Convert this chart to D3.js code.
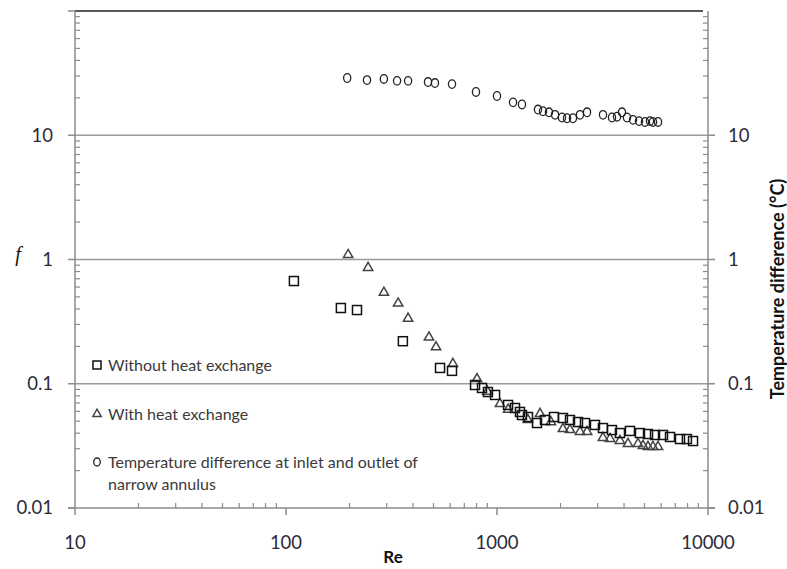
<!DOCTYPE html>
<meta charset="utf-8">
<html>
<head>
    <script src="https://d3js.org/d3.v7.min.js"></script>
    <style>
        body { margin: 0; background: #fff; }
        svg text { font-family: 'Lato', 'Open Sans', sans-serif; }
    </style>
</head>
<body>
<svg width="787" height="569"></svg>
<script>
    // Re / value pairs
    const tdRe  = [195, 242, 291, 336, 379, 471, 508, 612, 795, 1000, 1191, 1313, 1564, 1652, 1763, 1884, 2032, 2147, 2291, 2473, 2671, 3180, 3508, 3705, 3911, 4131, 4413, 4710, 5027, 5310, 5486, 5795];
    const tdVal = [28.9, 27.8, 28.4, 27.4, 27.4, 26.8, 26.3, 25.8, 22.3, 20.7, 18.4, 17.7, 16.1, 15.6, 15.3, 14.6, 13.9, 13.7, 13.7, 14.6, 15.3, 14.6, 13.9, 14.1, 15.3, 13.9, 13.3, 13.0, 12.8, 13.0, 12.8, 12.8];

    const noHxRe = [109, 182, 217, 358, 537, 612, 787, 849, 906, 979, 1128, 1217, 1285, 1313, 1402, 1548, 1688, 1862, 2053, 2218, 2420, 2612, 2913, 3177, 3505, 3826, 4266, 4760, 5196, 5609, 6119, 6607, 7367, 7943, 8492];
    const noHxF  = [0.671, 0.407, 0.392, 0.22, 0.134, 0.127, 0.0977, 0.0925, 0.0858, 0.0812, 0.0675, 0.0638, 0.0593, 0.056, 0.054, 0.0483, 0.0511, 0.054, 0.053, 0.0511, 0.0492, 0.0483, 0.0466, 0.044, 0.0424, 0.0401, 0.0417, 0.0401, 0.0394, 0.0387, 0.0387, 0.0373, 0.0359, 0.0359, 0.0346];

    const hxRe = [197, 245, 291, 340, 379, 476, 514, 618, 804, 900, 1033, 1130, 1400, 1600, 1800, 2053, 2218, 2473, 2671, 3177, 3434, 3826, 4178, 4660, 4920, 5196, 5486, 5795];
    const hxF  = [1.107, 0.871, 0.55, 0.45, 0.34, 0.24, 0.2, 0.147, 0.111, 0.088, 0.070, 0.063, 0.052, 0.0582, 0.05, 0.044, 0.0432, 0.0417, 0.0417, 0.0373, 0.0366, 0.0353, 0.0334, 0.0334, 0.0322, 0.0316, 0.0316, 0.0316];

    const xTicks = [10, 100, 1000, 10000];
    const yTicks = [0.01, 0.1, 1, 10];
    const gridVals = [0.1, 1, 10];

    const svg = d3.select("svg");
    const margin = { top: 11, right: 79, bottom: 61, left: 75 };
    const W = 787 - margin.left - margin.right;
    const H = 569 - margin.top - margin.bottom;

    const x = d3.scaleLog().domain([10, 10000]).range([0, W]);
    const y = d3.scaleLog().domain([0.01, 100]).range([H, 0]);

    const g = svg.append("g").attr("transform", `translate(${margin.left},${margin.top})`);

    const axisCol = "#8c8c8c";

    // gridlines
    g.selectAll(".grid").data(gridVals).join("line")
        .attr("x1", 0).attr("x2", W)
        .attr("y1", d => y(d)).attr("y2", d => y(d))
        .attr("stroke", "#9a9a9a").attr("stroke-width", 1.5);
    g.append("line").attr("x1", 0).attr("x2", W - 5).attr("y1", y(100)).attr("y2", y(100))
        .attr("stroke", "#222").attr("stroke-width", 1.5);

    // frame lines
    g.append("line").attr("x1", 0).attr("x2", 0).attr("y1", 0).attr("y2", H).attr("stroke", axisCol).attr("stroke-width", 1.5);
    g.append("line").attr("x1", W).attr("x2", W).attr("y1", 0).attr("y2", H).attr("stroke", axisCol).attr("stroke-width", 1.5);
    g.append("line").attr("x1", -7).attr("x2", W + 7).attr("y1", H).attr("y2", H).attr("stroke", axisCol).attr("stroke-width", 1.5);

    // minor ticks
    const minorY = [];
    [0.01, 0.1, 1, 10].forEach(d => { for (let k = 2; k <= 9; k++) minorY.push(d * k); });
    const minorX = [];
    [10, 100, 1000].forEach(d => { for (let k = 2; k <= 9; k++) minorX.push(d * k); });

    g.selectAll(".myl").data(minorY).join("line")
        .attr("x1", 0).attr("x2", 5).attr("y1", d => y(d)).attr("y2", d => y(d))
        .attr("stroke", axisCol).attr("stroke-width", 1.2);
    g.selectAll(".myr").data(minorY).join("line")
        .attr("x1", W - 5).attr("x2", W).attr("y1", d => y(d)).attr("y2", d => y(d))
        .attr("stroke", axisCol).attr("stroke-width", 1.2);
    g.selectAll(".mx").data(minorX).join("line")
        .attr("x1", d => x(d)).attr("x2", d => x(d)).attr("y1", H - 5).attr("y2", H)
        .attr("stroke", axisCol).attr("stroke-width", 1.2);

    // major ticks
    g.selectAll(".tyl").data(yTicks.concat([100])).join("line")
        .attr("x1", -7).attr("x2", 0).attr("y1", d => y(d)).attr("y2", d => y(d))
        .attr("stroke", axisCol).attr("stroke-width", 1.5);
    g.selectAll(".tyr").data(yTicks).join("line")
        .attr("x1", W).attr("x2", W + 7).attr("y1", d => y(d)).attr("y2", d => y(d))
        .attr("stroke", axisCol).attr("stroke-width", 1.5);
    g.selectAll(".tx").data(xTicks).join("line")
        .attr("x1", d => x(d)).attr("x2", d => x(d)).attr("y1", H).attr("y2", H + 7)
        .attr("stroke", axisCol).attr("stroke-width", 1.5);

    // tick labels
    const tickFs = 18.5;
    g.selectAll(".lyl").data(yTicks).join("text")
        .attr("x", -22).attr("y", d => y(d)).attr("dy", "0.35em")
        .attr("text-anchor", "end").attr("font-size", tickFs).attr("fill", "#2a2a3a")
        .text(d => String(d));
    g.selectAll(".lyr").data(yTicks).join("text")
        .attr("x", W + 20).attr("y", d => y(d)).attr("dy", "0.35em")
        .attr("text-anchor", "start").attr("font-size", tickFs).attr("fill", "#2a2a3a")
        .text(d => String(d));
    g.selectAll(".lx").data(xTicks).join("text")
        .attr("x", d => x(d)).attr("y", H + 41)
        .attr("text-anchor", "middle").attr("font-size", tickFs).attr("fill", "#2a2a3a")
        .text(d => String(d));

    // axis titles
    svg.append("text").attr("x", 393).attr("y", 563).attr("text-anchor", "middle")
        .attr("font-size", 17).attr("font-weight", "bold").attr("fill", "#111").text("Re");
    svg.append("text").attr("x", 18).attr("y", 261).attr("text-anchor", "middle")
        .attr("font-size", 20).attr("font-style", "italic").attr("fill", "#111")
        .style("font-family", "'Liberation Serif', serif").text("f");
    svg.append("text").attr("transform", "translate(784,289) rotate(-90)")
        .attr("text-anchor", "middle").attr("font-size", 18).attr("font-weight", "bold")
        .attr("fill", "#111").text("Temperature difference (°C)");

    // markers
    const tri = d3.symbol().type(d3.symbolTriangle).size(38);

    g.selectAll(".td").data(d3.zip(tdRe, tdVal)).join("ellipse")
        .attr("cx", d => x(d[0])).attr("cy", d => y(d[1]))
        .attr("rx", 3.6).attr("ry", 4.3)
        .attr("fill", "none").attr("stroke", "#222").attr("stroke-width", 1.3);

    g.selectAll(".hx").data(d3.zip(hxRe, hxF)).join("path")
        .attr("d", tri)
        .attr("transform", d => `translate(${x(d[0])},${y(d[1]) + 0.8})`)
        .attr("fill", "none").attr("stroke", "#444").attr("stroke-width", 1.5);

    g.selectAll(".nhx").data(d3.zip(noHxRe, noHxF)).join("rect")
        .attr("x", d => x(d[0]) - 4.5).attr("y", d => y(d[1]) - 4.5)
        .attr("width", 9).attr("height", 9)
        .attr("fill", "none").attr("stroke", "#111").attr("stroke-width", 1.5);

    // legend
    const leg = svg.append("g");
    leg.append("rect").attr("x", 93).attr("y", 361).attr("width", 8).attr("height", 8)
        .attr("fill", "none").attr("stroke", "#111").attr("stroke-width", 1.5);
    leg.append("path").attr("d", d3.symbol().type(d3.symbolTriangle).size(30))
        .attr("transform", "translate(97,414)")
        .attr("fill", "none").attr("stroke", "#444").attr("stroke-width", 1.5);
    leg.append("ellipse").attr("cx", 97).attr("cy", 462).attr("rx", 3.3).attr("ry", 4)
        .attr("fill", "none").attr("stroke", "#222").attr("stroke-width", 1.3);

    const legTxt = [
        ["Without heat exchange", 365],
        ["With heat exchange", 414],
        ["Temperature difference at inlet and outlet of", 462],
        ["narrow annulus", 484]
    ];
    leg.selectAll("text").data(legTxt).join("text")
        .attr("x", 108).attr("y", d => d[1]).attr("dy", "0.35em")
        .attr("font-size", 16).attr("fill", "#3a3a3a")
        .text(d => d[0]);
</script>
</body>
</html>
